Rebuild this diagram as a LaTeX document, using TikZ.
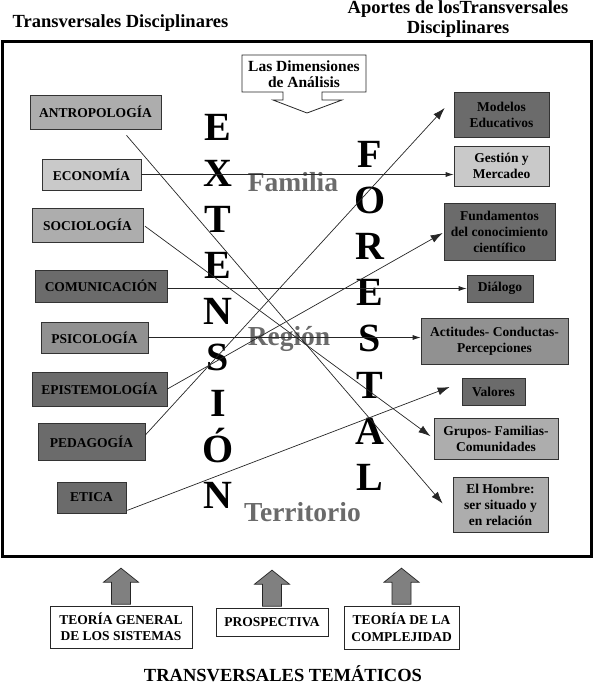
\documentclass[tikz,border=0pt]{standalone}
\usepackage{fontspec}
\setmainfont{Liberation Serif}
\usetikzlibrary{arrows.meta}
\usetikzlibrary{calc}
\definecolor{lgray}{gray}{0.79}
\definecolor{mgray}{gray}{0.68}
\definecolor{pgray}{gray}{0.57}
\definecolor{dgray}{gray}{0.42}
\definecolor{labgray}{gray}{0.42}

\begin{document}
\begin{tikzpicture}[x=1pt,y=-1pt,
  every node/.style={align=center,font=\bfseries},
  box/.style={draw=black!80,line width=0.7pt,inner sep=1pt,font=\fontsize{13.5}{16}\bfseries},
  tbox/.style={draw=black!85,fill=white,line width=0.7pt,inner sep=1pt,font=\fontsize{13.5}{16.5}\bfseries},
  title/.style={font=\fontsize{18.5}{20}\bfseries,inner sep=0pt},
  bigletter/.style={font=\fontsize{40}{40}\bfseries,inner sep=0pt,anchor=base},
  dimlabel/.style={font=\fontsize{27.5}{28}\bfseries,text=labgray,inner sep=0pt,anchor=base},
  link/.style={line width=0.7pt,black!85,-{Latex[length=12pt,width=8pt]}},
  hlink/.style={line width=0.7pt,black!85,-{Latex[length=8pt,width=5pt]}},
  upblock/.style={draw=black!85,fill=black!50,line width=0.7pt,line join=miter}]

\useasboundingbox (0,0) rectangle (595,686);

\node[title,anchor=base] (tdisc) at (120.5,27) {Transversales Disciplinares};
\node[title,anchor=north] (aportes) at (458,0.5) {Aportes de losTransversales\\Disciplinares};

\draw[line width=3pt] (2.5,41.5) rectangle (591.5,556);

\draw[line width=0.8pt,black!85,fill=white] (242,55) -- (366,55) -- (366,92) -- (322,92) -- (322,100)
  -- (342,100) -- (307,113) -- (273,100) -- (283,100) -- (283,92) -- (242,92) -- cycle;
\node[font=\fontsize{15.5}{16.5}\bfseries,inner sep=0pt] (dimens) at (304,74) {Las Dimensiones\\de Análisis};

\foreach \l [count=\i from 0] in {E,X,T,E,N,S,I,Ó,N}
  \node[bigletter] (ext\i) at (218,140+46*\i) {\l};
\foreach \l [count=\i from 0] in {F,O,R,E,S,T,A,L}
  \node[bigletter] (for\i) at (370,167+46.2*\i) {\l};

\node[dimlabel] (familia) at (293,191.5) {Familia};
\node[dimlabel] (region) at (289,345) {Región};
\node[dimlabel] (territorio) at (302.5,521.5) {Territorio};

\node[box,fill=mgray,minimum width=131,minimum height=34] (antro) at (95.5,112) {ANTROPOLOGÍA};
\node[box,fill=lgray,minimum width=99,minimum height=31] (econ) at (91.5,174.5) {ECONOMÍA};
\node[box,fill=mgray,minimum width=111,minimum height=34] (socio) at (87.5,225) {SOCIOLOGÍA};
\node[box,fill=dgray,minimum width=132,minimum height=32] (comu) at (101,286) {COMUNICACIÓN};
\node[box,fill=pgray,minimum width=107,minimum height=31] (psico) at (94.5,337.5) {PSICOLOGÍA};
\node[box,fill=dgray,minimum width=135,minimum height=34] (episte) at (99.5,389) {EPISTEMOLOGÍA};
\node[box,fill=dgray,minimum width=107,minimum height=37] (peda) at (91.5,441.5) {PEDAGOGÍA};
\node[box,fill=dgray,minimum width=69,minimum height=31] (etica) at (91.5,497.5) {ETICA};

\node[box,fill=dgray,minimum width=95,minimum height=45] (modelos) at (501.5,114.5) {Modelos\\Educativos};
\node[box,fill=lgray,minimum width=95,minimum height=40] (gestion) at (501.5,166) {Gestión y\\Mercadeo};
\node[box,fill=dgray,minimum width=111,minimum height=57] (fund) at (499.5,231.5) {Fundamentos\\del conocimiento\\científico};
\node[box,fill=dgray,minimum width=66,minimum height=27] (dialogo) at (500,288.5) {Diálogo};
\node[box,fill=pgray,minimum width=147,minimum height=46] (actitudes) at (494.5,341) {Actitudes- Conductas-\\Percepciones};
\node[box,fill=dgray,minimum width=63,minimum height=27] (valores) at (493.5,391.5) {Valores};
\node[box,fill=mgray,minimum width=124,minimum height=41] (grupos) at (496,438.5) {Grupos- Familias-\\Comunidades};
\node[box,fill=mgray,minimum width=95,minimum height=55] (hombre) at (500.5,504.5) {El Hombre:\\ser situado y\\en relación};

\draw[link] ($(antro.south)+(31,6)$) -- ($(hombre.west)+(-10,-1)$);
\draw[hlink] (econ.east) -- (econ.east -| gestion.west);
\draw[link,shorten >=4pt,shorten <=2pt] (socio.east) -- (grupos.west);
\draw[hlink] (comu.east |- dialogo.west) -- (dialogo.west);
\draw[hlink] (psico.east) -- (psico.east -| actitudes.west);
\draw[link] (episte.east) -- ($(fund.west)+(-1,1.5)$);
\draw[link] ($(peda.east)+(0,-6.5)$) -- ($(modelos.west)+(-9,-6.5)$);
\draw[link] ($(etica.south east)+(1,-3)$) -- ($(valores.west)+(-12,-4.5)$);

\node[tbox,minimum width=142,minimum height=42] (tgs) at (121,627) {TEORÍA GENERAL\\DE LOS SISTEMAS};
\node[tbox,minimum width=112,minimum height=28] (prosp) at (272,622) {PROSPECTIVA};
\node[tbox,minimum width=115,minimum height=43] (tcompl) at (401.5,627.5) {TEORÍA DE LA\\COMPLEJIDAD};

\foreach \b in {tgs,prosp,tcompl}
  \draw[upblock] ($(\b.north)+(-9.5,-1.5)$) -- ++(0,-22) -- ++(-8,0) -- ++(17.5,-14)
    -- ++(17.5,14) -- ++(-8,0) -- ++(0,22) -- cycle;

\node[title,anchor=base] (ttem) at (283,681.5) {TRANSVERSALES TEMÁTICOS};
\end{tikzpicture}
\end{document}
